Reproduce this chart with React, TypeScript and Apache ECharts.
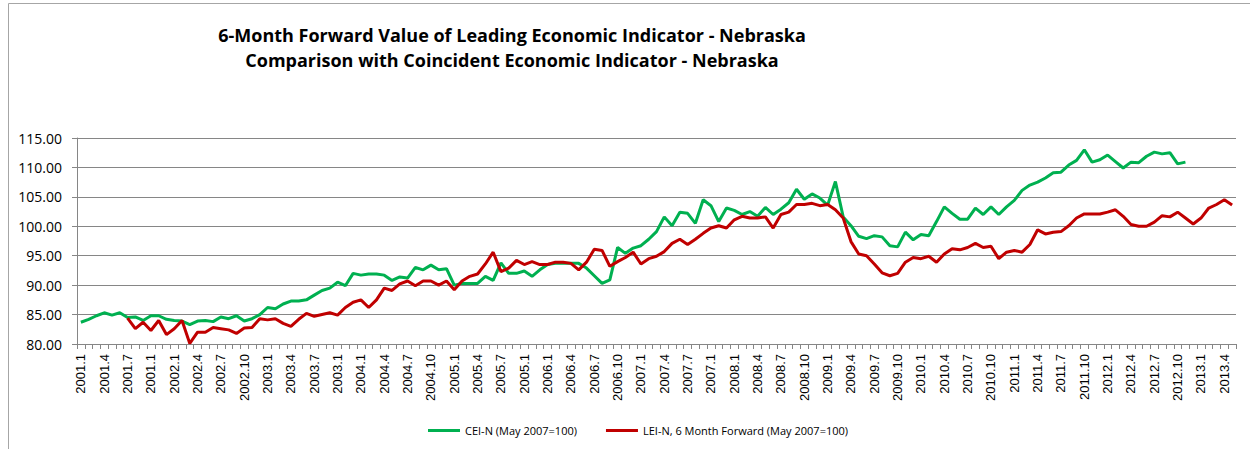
import React, { useEffect, useRef } from "react";
import * as echarts from "echarts";

const START_YEAR = 2001;
const MONTH_COUNT = 149;

const tickLabels = [
  "2001.1", "2001.4", "2001.7", "2001.1", "2002.1", "2002.4", "2002.7", "2002.10",
  "2003.1", "2003.4", "2003.7", "2003.1", "2004.1", "2004.4", "2004.7", "2004.10",
  "2005.1", "2005.4", "2005.7", "2005.1", "2006.1", "2006.4", "2006.7", "2006.10",
  "2007.1", "2007.4", "2007.7", "2007.1", "2008.1", "2008.4", "2008.7", "2008.10",
  "2009.1", "2009.4", "2009.7", "2009.10", "2010.1", "2010.4", "2010.7", "2010.10",
  "2011.1", "2011.4", "2011.7", "2011.10", "2012.1", "2012.4", "2012.7", "2012.10",
  "2013.1", "2013.4",
];

const categories: string[] = Array.from({ length: MONTH_COUNT }, (_, i) =>
  `${START_YEAR + Math.floor(i / 12)}.${(i % 12) + 1}`
);

// CEI-N (May 2007=100), from 2001.1
const ceiValues = [
  83.7, 84.2, 84.8, 85.3, 84.9, 85.3, 84.5, 84.6, 84.0, 84.8, 84.8, 84.2,
  84.0, 83.9, 83.3, 83.9, 84.0, 83.8, 84.6, 84.3, 84.8, 83.9, 84.3, 85.0,
  86.2, 86.0, 86.8, 87.3, 87.3, 87.5, 88.3, 89.1, 89.5, 90.5, 89.9, 92.0,
  91.7, 91.9, 91.9, 91.7, 90.8, 91.4, 91.2, 93.0, 92.6, 93.4, 92.6, 92.8,
  90.0, 90.3, 90.3, 90.3, 91.5, 90.8, 93.8, 92.0, 92.0, 92.4, 91.5, 92.6,
  93.5, 93.7, 93.7, 93.7, 93.7, 92.9, 91.6, 90.3, 90.9, 96.4, 95.4, 96.3,
  96.7, 97.8, 99.1, 101.6, 100.1, 102.4, 102.2, 100.5, 104.5, 103.5, 100.8, 103.1,
  102.7, 102.0, 102.5, 101.7, 103.2, 102.0, 102.9, 104.0, 106.3, 104.6, 105.5, 104.8,
  103.6, 107.6, 101.6, 100.1, 98.3, 97.9, 98.4, 98.2, 96.7, 96.5, 99.0, 97.7,
  98.6, 98.4, 100.8, 103.3, 102.2, 101.2, 101.2, 103.1, 102.0, 103.3, 102.0, 103.3,
  104.4, 106.1, 107.0, 107.5, 108.2, 109.1, 109.2, 110.4, 111.2, 113.0, 110.9, 111.3,
  112.1, 111.0, 109.9, 110.9, 110.8, 111.9, 112.6, 112.3, 112.5, 110.6, 110.9,
];

// LEI-N, 6 Month Forward (May 2007=100), from 2001.1 (starts 2001.7)
const leiValues = [
  null, null, null, null, null, null, 84.4, 82.6, 83.7, 82.3, 84.0, 81.6,
  82.6, 84.0, 80.1, 82.0, 82.0, 82.8, 82.6, 82.4, 81.8, 82.7, 82.8, 84.3,
  84.1, 84.3, 83.5, 83.0, 84.2, 85.2, 84.7, 85.0, 85.3, 84.9, 86.2, 87.1,
  87.5, 86.2, 87.5, 89.5, 89.1, 90.2, 90.7, 89.9, 90.7, 90.7, 90.0, 90.7,
  89.2, 90.7, 91.5, 91.9, 93.6, 95.6, 92.3, 92.9, 94.2, 93.5, 94.0, 93.5,
  93.5, 93.9, 93.9, 93.7, 92.6, 93.9, 96.1, 95.9, 93.2, 94.0, 94.7, 95.6,
  93.6, 94.5, 94.9, 95.7, 97.1, 97.8, 96.9, 97.8, 98.8, 99.7, 100.1, 99.7,
  101.1, 101.7, 101.4, 101.4, 101.6, 99.7, 102.0, 102.4, 103.7, 103.7, 103.9, 103.5,
  103.7, 102.8, 101.4, 97.4, 95.3, 95.0, 93.6, 92.1, 91.6, 92.0, 93.9, 94.7,
  94.5, 94.9, 93.9, 95.3, 96.2, 96.0, 96.4, 97.1, 96.4, 96.6, 94.5, 95.6,
  95.9, 95.6, 96.9, 99.4, 98.7, 99.0, 99.1, 100.1, 101.4, 102.1, 102.1, 102.1,
  102.4, 102.8, 101.7, 100.3, 100.0, 100.0, 100.7, 101.8, 101.6, 102.4, 101.4, 100.4,
  101.4, 103.1, 103.7, 104.5, 103.6,
];

const seriesNames = ["CEI-N (May 2007=100)", "LEI-N, 6 Month Forward (May 2007=100)"];
const titleText =
  "6-Month Forward Value of Leading Economic Indicator - Nebraska\nComparison with Coincident Economic Indicator - Nebraska";

export default function App() {
  const ref = useRef<HTMLDivElement>(null);

  useEffect(() => {
    if (!ref.current) return;
    const chart = echarts.init(ref.current, null, { renderer: "svg" });
    const font = "'Open Sans', 'Liberation Sans', sans-serif";
    chart.setOption({
      animation: false,
      backgroundColor: "#ffffff",
      textStyle: { fontFamily: font },
      title: {
        text: titleText,
        left: 512,
        top: 22,
        textAlign: "center",
        padding: 0,
        textStyle: {
          fontFamily: font,
          fontSize: 18,
          fontWeight: "bold",
          color: "#000",
          lineHeight: 25,
        },
      },
      graphic: [
        {
          type: "rect",
          shape: { x: 8.5, y: 3.5, width: 1300, height: 500 },
          style: { fill: "none", stroke: "#a6a6a6", lineWidth: 1 },
          silent: true,
          z: -10,
        },
      ],
      legend: {
        left: 423,
        top: 420,
        itemWidth: 32,
        itemHeight: 3,
        itemGap: 29,
        icon: "rect",
        textStyle: { fontFamily: font, fontSize: 11, color: "#000" },
        data: seriesNames,
      },
      grid: { left: 77, right: 14, top: 138, bottom: 105, containLabel: false },
      xAxis: {
        type: "category",
        data: categories,
        boundaryGap: true,
        axisLine: { lineStyle: { color: "#868686", width: 1 } },
        axisTick: {
          show: true,
          interval: 0,
          length: 5,
          lineStyle: { color: "#868686" },
        },
        axisLabel: {
          interval: 2,
          rotate: 90,
          margin: 10,
          fontFamily: "'Liberation Sans', Arial, sans-serif",
          fontSize: 13,
          color: "#000",
          formatter: (_v: string, idx: number) =>
            idx % 3 === 0 ? tickLabels[idx / 3] ?? "" : "",
        },
        splitLine: { show: false },
      },
      yAxis: {
        type: "value",
        min: 80,
        max: 115,
        interval: 5,
        axisLine: { show: true, lineStyle: { color: "#868686", width: 1 } },
        axisTick: { show: true, length: 5, lineStyle: { color: "#868686" } },
        axisLabel: {
          margin: 15,
          fontFamily: font,
          fontSize: 14,
          color: "#000",
          formatter: (v: number) => v.toFixed(2),
        },
        splitLine: { show: true, lineStyle: { color: "#868686", width: 1 } },
      },
      series: [
        {
          name: seriesNames[0],
          type: "line",
          data: ceiValues,
          showSymbol: false,
          symbol: "none",
          color: "#00B050",
          lineStyle: { width: 3, color: "#00B050" },
          z: 2,
        },
        {
          name: seriesNames[1],
          type: "line",
          data: leiValues,
          showSymbol: false,
          symbol: "none",
          color: "#C00000",
          lineStyle: { width: 3, color: "#C00000" },
          z: 3,
        },
      ],
    });
    return () => chart.dispose();
  }, []);

  return (
    <div
      ref={ref}
      style={{ position: "absolute", left: 0, top: 0, width: 1250, height: 449 }}
    />
  );
}
